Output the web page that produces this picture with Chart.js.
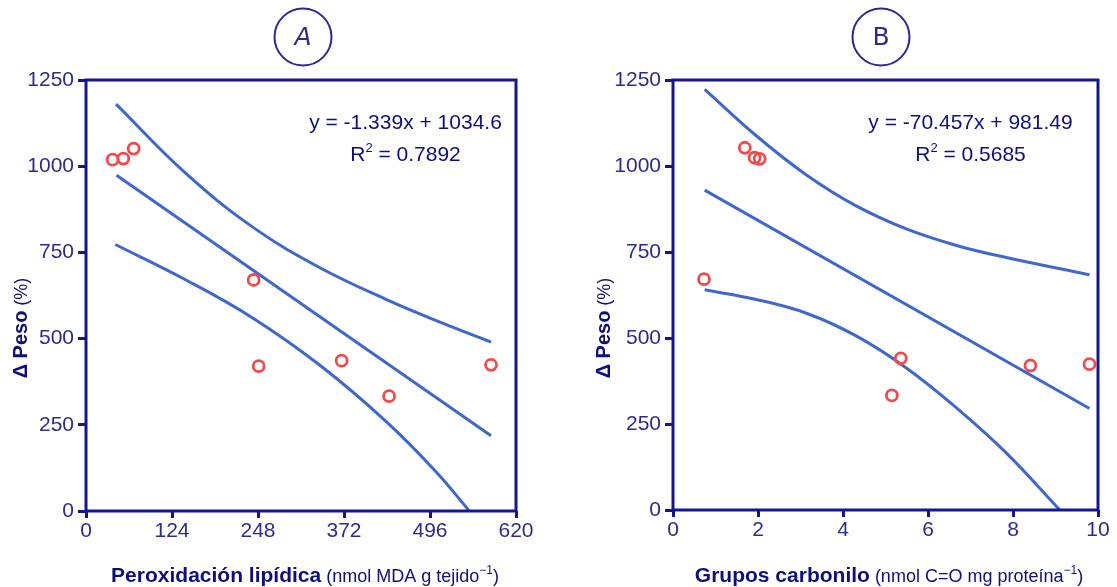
<!DOCTYPE html>
<html><head><meta charset="utf-8">
<script src="https://cdn.jsdelivr.net/npm/chart.js@4/dist/chart.umd.min.js"></script>
<style>
html,body{margin:0;padding:0;background:#fff;overflow:hidden}
#wrap{position:relative;width:1117px;height:587px}
canvas{position:absolute;top:0}
#cA{left:0}
#cB{left:560px}
</style></head>
<body><div id="wrap"><canvas id="cA" width="560" height="587"></canvas><canvas id="cB" width="557" height="587"></canvas></div>
<script>
// ---------- data ----------
const yTickValues = [0, 250, 500, 750, 1000, 1250];

// Panel A: Peroxidación lipídica
const xTicksA = [0, 124, 248, 372, 496, 620];
const pointsAx = [38.4, 53.8, 68.7, 241.7, 249, 368.6, 437, 584];
const pointsAy = [1019, 1022, 1051, 670, 420, 436, 333, 424];
const upperAx = [43.3, 144, 240, 336, 432.5, 528.7, 584];
const upperAy = [1180, 979, 824, 707, 614, 533, 490];
const fitAx = [44, 584];
const fitAy = [974, 218];
const lowerAx = [42.3, 144.2, 240.3, 336.4, 432.5, 504.6, 552.7];
const lowerAy = [773, 670, 560, 424, 260, 114, 0];

// Panel B: Grupos carbonilo
const xTicksB = [0, 2, 4, 6, 8, 10];
const pointsBx = [1.69, 1.92, 2.04, 0.73, 5.36, 5.15, 8.41, 9.80];
const pointsBy = [1053, 1024, 1021, 671, 441, 333, 420, 424];
const upperBx = [0.745, 1.96, 3.14, 4.31, 5.49, 6.67, 7.84, 9.80];
const upperBy = [1223, 1088, 974, 884, 817, 769, 734, 684];
const fitBx = [0.745, 9.80];
const fitBy = [930, 295];
const lowerBx = [0.745, 1.96, 3.14, 4.31, 5.49, 6.67, 7.84, 9.1];
const lowerBy = [640, 612, 572, 506, 413, 297, 166, 0];

// ---------- styles ----------
const AXIS = '#16168c';
const TICK = '#2c2c8e';
const TXT = '#0e0e7e';
const LINE = '#4068cc';
const PT = '#f04a4a';
const FONT = '"Liberation Sans", Arial, sans-serif';

const zip = (xs, ys) => xs.map((x, i) => ({x: x, y: ys[i]}));

function drawRich(ctx, parts, x, y, align) {
  let total = 0;
  parts.forEach(p => { ctx.font = p.font; p.w = ctx.measureText(p.text).width; total += p.w; });
  let cx = align === 'center' ? x - total / 2 : x;
  ctx.textAlign = 'left';
  ctx.textBaseline = 'alphabetic';
  parts.forEach(p => {
    ctx.font = p.font;
    ctx.fillStyle = p.color || TXT;
    ctx.fillText(p.text, cx, y + (p.dy || 0));
    cx += p.w;
  });
}

const annot = {
  id: 'annot',
  afterDatasetsDraw(chart, args, o) {
    const ctx = chart.ctx, a = chart.chartArea;
    ctx.save();
    // frame
    ctx.strokeStyle = AXIS;
    ctx.lineWidth = 3;
    ctx.strokeRect(a.left, a.top, a.right - a.left, a.bottom - a.top);
    // equation
    drawRich(ctx, [{text: o.eq, font: '21px ' + FONT}], o.eqX, 129, 'center');
    drawRich(ctx, [
      {text: 'R', font: '21px ' + FONT},
      {text: '2', font: '13px ' + FONT, dy: -9},
      {text: ' = ' + o.r2, font: '21px ' + FONT}
    ], o.eqX, 161, 'center');
    // y title
    ctx.save();
    ctx.translate(o.yTitleX, 328);
    ctx.rotate(-Math.PI / 2);
    drawRich(ctx, [
      {text: '\u0394 Peso', font: 'bold 20px ' + FONT},
      {text: ' (%)', font: '18px ' + FONT}
    ], 0, 7, 'center');
    ctx.restore();
    // x title
    drawRich(ctx, [
      {text: o.xBold, font: 'bold 21px ' + FONT},
      {text: ' ' + o.xNorm, font: '18px ' + FONT},
      {text: '\u22121', font: '12px ' + FONT, dy: -8},
      {text: ')', font: '18px ' + FONT}
    ], o.xTitleX, 582, 'center');
    // circled letter
    ctx.beginPath();
    ctx.arc(o.cX, 37, 28.5, 0, Math.PI * 2);
    ctx.strokeStyle = '#2a2a92';
    ctx.lineWidth = 2;
    ctx.stroke();
    ctx.fillStyle = '#2a2a92';
    ctx.font = o.letterFont;
    ctx.textAlign = 'center';
    ctx.textBaseline = 'middle';
    ctx.fillText(o.letter, o.cX, 38);
    ctx.restore();
  }
};

function makeChart(id, pts, up, fit, low, xMax, xTicks, yW, xH, padR, ann) {
  return new Chart(document.getElementById(id), {
    type: 'scatter',
    data: {
      datasets: [
        {data: pts, showLine: false, pointRadius: 5.5, pointBorderWidth: 2.8,
         pointBackgroundColor: 'rgba(0,0,0,0)', pointBorderColor: PT},
        {data: up, showLine: true, pointRadius: 0, borderColor: LINE, borderWidth: 3,
         tension: 0.4, fill: false},
        {data: fit, showLine: true, pointRadius: 0, borderColor: LINE, borderWidth: 3, fill: false},
        {data: low, showLine: true, pointRadius: 0, borderColor: LINE, borderWidth: 3,
         tension: 0.4, fill: false}
      ]
    },
    options: {
      responsive: false,
      animation: false,
      events: [],
      layout: {padding: {left: 0, top: 80, right: padR, bottom: 0}},
      plugins: {legend: {display: false}, tooltip: {enabled: false}, annot: ann},
      scales: {
        x: {
          type: 'linear', min: 0, max: xMax,
          afterBuildTicks: s => { s.ticks = xTicks.map(v => ({value: v})); },
          afterFit: s => { s.height = xH; },
          border: {display: false},
          grid: {drawOnChartArea: false, drawTicks: true, tickLength: 7, tickWidth: 3, tickColor: AXIS},
          ticks: {color: TICK, font: {family: FONT, size: 21}, padding: 1, maxRotation: 0,
                  callback: v => String(v)}
        },
        y: {
          type: 'linear', min: 0, max: 1250,
          afterBuildTicks: s => { s.ticks = yTickValues.map(v => ({value: v})); },
          afterFit: s => { s.width = yW; },
          border: {display: false},
          grid: {drawOnChartArea: false, drawTicks: true, tickLength: 8, tickWidth: 3, tickColor: AXIS},
          ticks: {color: TICK, font: {family: FONT, size: 21}, padding: 4,
                  callback: v => String(v)}
        }
      }
    },
    plugins: [annot]
  });
}

makeChart('cA', zip(pointsAx, pointsAy), zip(upperAx, upperAy), zip(fitAx, fitAy), zip(lowerAx, lowerAy),
  620, xTicksA, 86, 76, 44,
  {eq: 'y = -1.339x + 1034.6', r2: '0.7892', eqX: 405.5, yTitleX: 20,
   xBold: 'Peroxidación lipídica', xNorm: '(nmol MDA g tejido', xTitleX: 305,
   cX: 303, letter: 'A', letterFont: 'italic 25px "DejaVu Sans"'});

makeChart('cB', zip(pointsBx, pointsBy), zip(upperBx, upperBy), zip(fitBx, fitBy), zip(lowerBx, lowerBy),
  10, xTicksB, 113, 77, 19,
  {eq: 'y = -70.457x + 981.49', r2: '0.5685', eqX: 410.5, yTitleX: 43,
   xBold: 'Grupos carbonilo', xNorm: '(nmol C=O mg proteína', xTitleX: 329,
   cX: 321, letter: 'B', letterFont: '25px "DejaVu Sans"'});
</script>
</body></html>
